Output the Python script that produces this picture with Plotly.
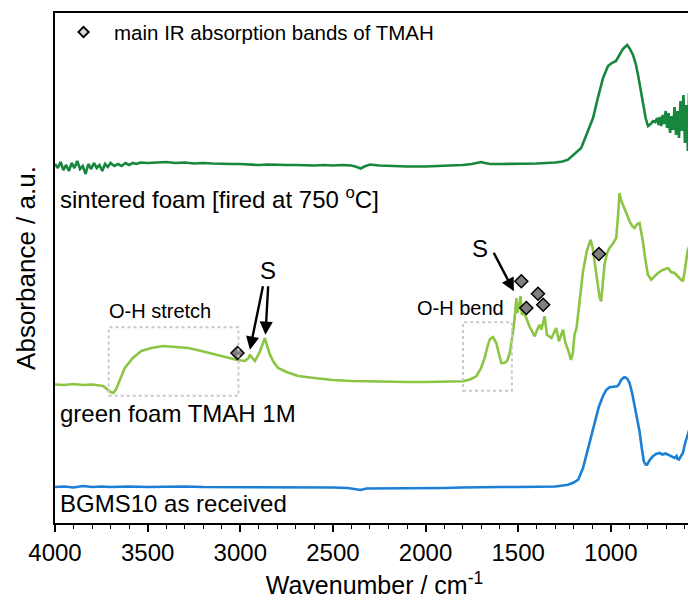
import plotly.graph_objects as go

# ---------------- data (wavenumber / cm^-1, absorbance in arbitrary offset units) ----------------
# BGMS10 as received (blue)
wn_bgms = [4000, 3950, 3900, 3850, 3800, 3750, 3700, 3600, 3500, 3400, 3300, 3200, 3100, 3000, 2900,
           2800, 2700, 2600, 2500, 2420, 2380, 2350, 2320, 2250, 2100, 2000, 1900, 1800, 1700, 1600,
           1500, 1400, 1300, 1260, 1231, 1200, 1176, 1150, 1132, 1110, 1088, 1065, 1043, 1025, 1007,
           985, 966, 955, 944, 930, 922, 910, 899, 885, 872, 858, 845, 833, 822, 812, 804, 790, 773,
           755, 737, 720, 705, 691, 675, 665, 656, 645, 640, 632, 620, 611, 600, 590, 584, 575, 566,
           560, 555, 551]
ab_bgms = [0.360, 0.365, 0.355, 0.370, 0.360, 0.365, 0.360, 0.365, 0.360, 0.365, 0.365, 0.360, 0.360,
           0.360, 0.355, 0.355, 0.355, 0.355, 0.355, 0.350, 0.335, 0.330, 0.345, 0.345, 0.345, 0.345,
           0.350, 0.355, 0.360, 0.360, 0.360, 0.360, 0.365, 0.375, 0.383, 0.405, 0.433, 0.550, 0.683,
           0.850, 1.017, 1.160, 1.267, 1.330, 1.357, 1.365, 1.367, 1.390, 1.433, 1.455, 1.457, 1.440,
           1.400, 1.300, 1.183, 1.050, 0.917, 0.750, 0.617, 0.585, 0.583, 0.630, 0.667, 0.690, 0.700,
           0.685, 0.695, 0.683, 0.665, 0.655, 0.650, 0.670, 0.640, 0.635, 0.680, 0.700, 0.790, 0.850,
           0.883, 0.950, 1.000, 1.100, 1.170, 1.200]

# green foam TMAH 1M (light green)
wn_green = [4000, 3950, 3900, 3850, 3800, 3760, 3740, 3720, 3700, 3685, 3670, 3650, 3623, 3580, 3534,
            3480, 3416, 3350, 3281, 3210, 3137, 3080, 3022, 2975, 2955, 2948, 2935, 2921, 2895, 2880,
            2867, 2855, 2840, 2820, 2796, 2750, 2688, 2600, 2500, 2400, 2300, 2202, 2100, 2000, 1900,
            1798, 1760, 1726, 1700, 1681, 1665, 1654, 1645, 1636, 1627, 1618, 1605, 1591, 1575, 1560,
            1545, 1537, 1525, 1519, 1513, 1510, 1505, 1497, 1487, 1480, 1470, 1456, 1440, 1425, 1411,
            1398, 1384, 1375, 1367, 1357, 1345, 1320, 1295, 1280, 1258, 1245, 1231, 1215, 1205, 1196,
            1185, 1165, 1150, 1130, 1109, 1098, 1088, 1070, 1060, 1052, 1043, 1034, 1020, 1007, 990,
            971, 962, 953, 945, 926, 912, 899, 885, 872, 858, 845, 835, 827, 815, 800, 782, 765, 746,
            720, 691, 675, 656, 630, 611, 600, 593, 585, 575, 565, 557, 551]
ab_green = [1.385, 1.380, 1.390, 1.380, 1.385, 1.380, 1.370, 1.340, 1.310, 1.300, 1.340, 1.430, 1.550,
            1.650, 1.720, 1.750, 1.770, 1.760, 1.750, 1.720, 1.690, 1.660, 1.633, 1.620, 1.650, 1.683,
            1.650, 1.620, 1.710, 1.790, 1.850, 1.770, 1.683, 1.610, 1.550, 1.510, 1.470, 1.450, 1.430,
            1.420, 1.415, 1.410, 1.410, 1.410, 1.410, 1.417, 1.435, 1.467, 1.550, 1.650, 1.770, 1.833,
            1.850, 1.860, 1.830, 1.800, 1.700, 1.600, 1.600, 1.620, 1.700, 1.783, 1.950, 2.050, 2.200,
            2.250, 2.100, 2.150, 2.270, 2.083, 2.100, 2.050, 1.970, 1.917, 1.867, 1.930, 1.983, 1.933,
            2.000, 2.067, 1.883, 1.850, 1.950, 1.817, 1.933, 1.800, 1.733, 1.630, 1.700, 1.883, 1.950,
            2.250, 2.517, 2.717, 2.833, 2.750, 2.617, 2.350, 2.250, 2.217, 2.400, 2.583, 2.700, 2.750,
            2.790, 2.850, 3.050, 3.300, 3.230, 3.150, 3.080, 3.017, 2.970, 2.950, 2.990, 3.000, 2.900,
            2.817, 2.650, 2.483, 2.433, 2.470, 2.500, 2.530, 2.550, 2.510, 2.500, 2.450, 2.417, 2.530,
            2.617, 2.730, 2.770, 2.850, 2.917, 2.950]

# sintered foam fired at 750 C (dark green)
wn_sint = [4000, 3985, 3970, 3955, 3940, 3925, 3910, 3895, 3880, 3865, 3850, 3835, 3820, 3805, 3790,
           3775, 3760, 3745, 3730, 3715, 3700, 3680, 3660, 3640, 3620, 3600, 3580, 3560, 3540, 3500,
           3450, 3400, 3350, 3300, 3250, 3200, 3150, 3100, 3050, 3000, 2950, 2900, 2850, 2800, 2750,
           2700, 2650, 2600, 2550, 2500, 2450, 2400, 2370, 2350, 2330, 2300, 2250, 2200, 2100, 2000,
           1900, 1850, 1800, 1750, 1720, 1700, 1680, 1650, 1600, 1500, 1400, 1300, 1260, 1231, 1200,
           1160, 1130, 1096, 1070, 1042, 1015, 995, 972, 960, 950, 935, 912, 900, 880, 865, 853, 840,
           826, 812, 799, 785, 772, 760, 750, 742, 735, 728, 720, 712, 704, 696, 688, 680, 672, 664,
           656, 648, 640, 632, 624, 616, 608, 600, 592, 584, 578, 572, 566, 560, 555, 551]
ab_sint = [3.59, 3.55, 3.61, 3.53, 3.58, 3.52, 3.60, 3.55, 3.62, 3.54, 3.57, 3.49, 3.59, 3.54, 3.60,
           3.55, 3.58, 3.52, 3.59, 3.56, 3.60, 3.57, 3.59, 3.57, 3.60, 3.58, 3.60, 3.59, 3.605, 3.60,
           3.605, 3.61, 3.60, 3.605, 3.595, 3.60, 3.595, 3.59, 3.59, 3.59, 3.585, 3.58, 3.585, 3.58,
           3.58, 3.58, 3.575, 3.575, 3.58, 3.575, 3.58, 3.575, 3.56, 3.545, 3.565, 3.585, 3.575, 3.57,
           3.565, 3.565, 3.57, 3.575, 3.58, 3.59, 3.605, 3.61, 3.60, 3.59, 3.59, 3.59, 3.595, 3.605,
           3.615, 3.633, 3.68, 3.75, 3.89, 4.05, 4.25, 4.45, 4.57, 4.60, 4.62, 4.66, 4.70, 4.74, 4.78,
           4.75, 4.68, 4.59, 4.48, 4.33, 4.18, 4.05, 3.97, 3.99, 4.02, 4.01, 4.05, 3.98, 4.06, 3.97,
           4.08, 3.99, 4.12, 3.95, 4.10, 3.90, 4.07, 3.93, 4.16, 3.88, 4.12, 3.85, 4.22, 3.92, 4.28,
           3.80, 4.18, 3.72, 4.30, 3.65, 4.38, 3.83, 4.45, 3.90, 4.53]

# main IR absorption bands of TMAH (marker positions on the green-foam spectrum)
tmah_wn = [3015, 1483, 1456, 1393, 1365, 1064]
tmah_ab = [1.70, 2.417, 2.15, 2.293, 2.183, 2.69]

# x-axis ticks
tick_vals = [4000, 3500, 3000, 2500, 2000, 1500, 1000]
tick_text = ["4000", "3500", "3000", "2500", "2000", "1500", "1000"]

FONT = "Liberation Sans, Arial, sans-serif"
C_SINT = "#17873d"
C_GREEN = "#8cc544"
C_BLUE = "#1c7fd6"

fig = go.Figure()
fig.add_trace(go.Scatter(x=wn_sint, y=ab_sint, mode="lines",
                         line=dict(color=C_SINT, width=2.6), showlegend=False))
fig.add_trace(go.Scatter(x=wn_green, y=ab_green, mode="lines",
                         line=dict(color=C_GREEN, width=2.6), showlegend=False))
fig.add_trace(go.Scatter(x=wn_bgms, y=ab_bgms, mode="lines",
                         line=dict(color=C_BLUE, width=2.6), showlegend=False))
fig.add_trace(go.Scatter(x=tmah_wn, y=tmah_ab, mode="markers",
                         marker=dict(symbol="diamond", size=10, color="#7f7f7f",
                                     line=dict(color="black", width=1.5)),
                         showlegend=False))
# legend-like key in the top-left
fig.add_trace(go.Scatter(x=[3846], y=[4.91], mode="markers",
                         marker=dict(symbol="diamond", size=8, color="#d9d9d9",
                                     line=dict(color="black", width=1.8)),
                         showlegend=False))

ann = []
def txt(x, y, s, size=22, xanchor="center"):
    ann.append(dict(x=x, y=y, text=s, showarrow=False, xanchor=xanchor, yanchor="middle",
                    font=dict(family=FONT, size=size, color="black")))

txt(3690, 4.91, "main IR absorption bands of TMAH", size=20.5, xanchor="left")
txt(3985, 3.25, "sintered foam [fired at 750 <sup>o</sup>C]", size=24, xanchor="left")
txt(3985, 1.10, "green foam TMAH 1M", size=24, xanchor="left")
txt(3985, 0.20, "BGMS10 as received", size=24, xanchor="left")
txt(3434, 2.12, "O-H stretch", size=20)
txt(1810, 2.15, "O-H bend", size=20)
txt(2850, 2.53, "S", size=24)
txt(1708, 2.75, "S", size=24)

for (hx, hy, tx, ty) in [(2948, 1.733, 2876, 2.383), (2864, 1.883, 2849, 2.383), (1523, 2.317, 1636, 2.717)]:
    ann.append(dict(x=hx, y=hy, ax=tx, ay=ty, xref="x", yref="y", axref="x", ayref="y",
                    text="", showarrow=True, arrowhead=2, arrowsize=1.1, arrowwidth=2.4,
                    arrowcolor="black"))

shapes = [
    dict(type="rect", xref="x", yref="y", x0=3710, x1=3010, y0=1.273, y1=1.957,
         line=dict(color="#c8c8c8", width=2, dash="dot")),
    dict(type="rect", xref="x", yref="y", x0=1798, x1=1534, y0=1.323, y1=2.007,
         line=dict(color="#c8c8c8", width=2, dash="dot")),
]

fig.update_layout(
    width=696, height=599,
    margin=dict(l=47, r=10, t=5, b=84),
    paper_bgcolor="white", plot_bgcolor="white",
    font=dict(family=FONT, color="black"),
    annotations=ann, shapes=shapes,
    xaxis=dict(range=[4000, 551], tickvals=tick_vals, ticktext=tick_text,
               ticks="outside", ticklen=7, tickwidth=1.5, tickcolor="black",
               minor=dict(dtick=100, ticks="outside", ticklen=4, tickwidth=1.2, tickcolor="black",
                          showgrid=False),
               showline=True, linecolor="black", linewidth=1.5, mirror=True,
               showgrid=False, zeroline=False, automargin=False,
               tickfont=dict(family=FONT, size=24, color="black"),
               title=dict(text="Wavenumber / cm<sup>-1</sup>", standoff=12,
                          font=dict(family=FONT, size=25, color="black"))),
    yaxis=dict(range=[0, 5.10], showticklabels=False, ticks="",
               showline=True, linecolor="black", linewidth=1.5, mirror=True,
               showgrid=False, zeroline=False, automargin=False,
               title=dict(text="Absorbance / a.u.", standoff=10,
                          font=dict(family=FONT, size=26, color="black"))),
)

fig.write_html("out.html")
